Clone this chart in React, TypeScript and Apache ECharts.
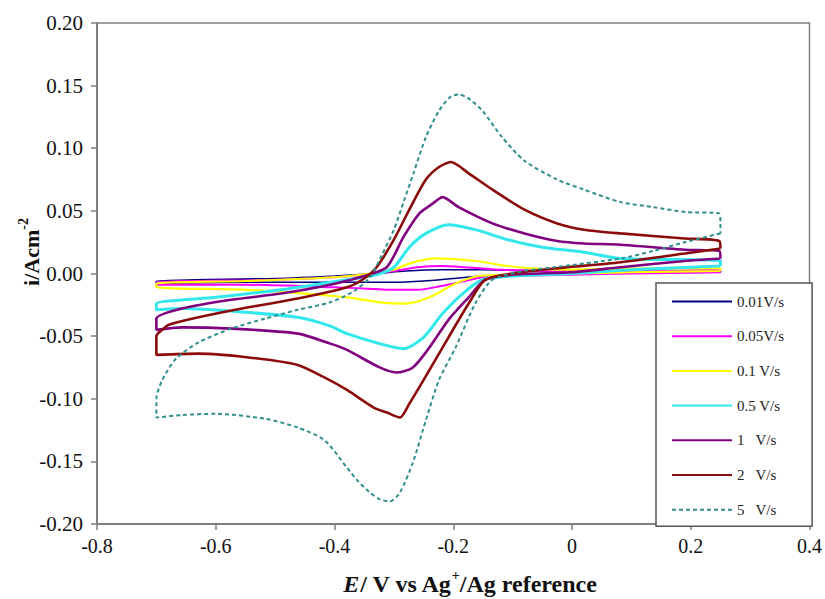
import React, { useEffect, useRef } from 'react';
import * as echarts from 'echarts';

// Scan-rate labels (legend)
const rateNames = ['0.01V/s', '0.05V/s', '0.1 V/s', '0.5 V/s', '1   V/s', '2   V/s', '5   V/s'];

// Axis tick settings
const xTicks = { min: -0.8, max: 0.4, interval: 0.2 };
const yTicks = { min: -0.2, max: 0.2, interval: 0.05 };

// 0.01 V/s
const E001 = [0.25, 0.1, 0.0, -0.1, -0.15, -0.2, -0.25, -0.3, -0.4, -0.55, -0.7, -0.7, -0.5, -0.4, -0.33, -0.28, -0.22, -0.15, -0.05, 0.1, 0.25, 0.25];
const I001 = [0.001, 0.0005, 0.0, -0.001, -0.002, -0.004, -0.006, -0.007, -0.007, -0.007, -0.008, -0.006, -0.004, -0.002, 0.0, 0.002, 0.003, 0.003, 0.002, 0.002, 0.002, 0.001];

// 0.05 V/s
const E005 = [0.25, 0.1, 0.0, -0.1, -0.15, -0.18, -0.22, -0.26, -0.3, -0.35, -0.4, -0.55, -0.7, -0.7, -0.5, -0.4, -0.35, -0.3, -0.26, -0.22, -0.18, -0.12, 0.0, 0.1, 0.25, 0.25];
const I005 = [0.001, 0.0, -0.001, -0.002, -0.003, -0.006, -0.010, -0.013, -0.013, -0.012, -0.011, -0.009, -0.009, -0.007, -0.005, -0.003, -0.001, 0.002, 0.005, 0.006, 0.005, 0.003, 0.002, 0.002, 0.003, 0.001];

// 0.1 V/s
const E01 = [0.25, 0.1, 0.0, -0.1, -0.158, -0.196, -0.24, -0.28, -0.324, -0.379, -0.45, -0.55, -0.7, -0.7, -0.55, -0.4, -0.34, -0.3, -0.274, -0.229, -0.163, -0.108, -0.025, 0.1, 0.25, 0.25];
const I01 = [0.002, 0.001, 0.0, -0.001, -0.002, -0.008, -0.019, -0.024, -0.023, -0.019, -0.016, -0.013, -0.011, -0.008, -0.006, -0.003, 0.0, 0.003, 0.008, 0.012, 0.010, 0.006, 0.003, 0.004, 0.004, 0.002];

// 0.5 V/s
const E05 = [0.25, 0.1, 0.0, -0.1, -0.151, -0.184, -0.218, -0.25, -0.284, -0.324, -0.379, -0.407, -0.462, -0.574, -0.657, -0.7, -0.7, -0.6, -0.49, -0.379, -0.33, -0.3, -0.274, -0.246, -0.208, -0.163, -0.108, -0.05, 0.02, 0.082, 0.25, 0.25];
const I05 = [0.006, 0.003, 0.0, -0.002, -0.005, -0.016, -0.032, -0.051, -0.060, -0.056, -0.048, -0.042, -0.035, -0.030, -0.028, -0.029, -0.024, -0.019, -0.013, -0.005, -0.001, 0.005, 0.021, 0.032, 0.039, 0.035, 0.027, 0.021, 0.017, 0.012, 0.010, 0.006];

// 1 V/s
const E1 = [0.25, 0.19, 0.082, 0.0, -0.1, -0.146, -0.174, -0.208, -0.24, -0.268, -0.296, -0.324, -0.379, -0.407, -0.462, -0.574, -0.657, -0.7, -0.7, -0.657, -0.574, -0.49, -0.407, -0.35, -0.312, -0.284, -0.257, -0.234, -0.218, -0.191, -0.134, -0.08, -0.025, 0.02, 0.082, 0.19, 0.248, 0.25];
const I1 = [0.012, 0.010, 0.005, 0.001, -0.001, -0.005, -0.019, -0.037, -0.059, -0.075, -0.079, -0.075, -0.061, -0.056, -0.048, -0.044, -0.043, -0.045, -0.036, -0.028, -0.021, -0.016, -0.009, -0.002, 0.005, 0.029, 0.048, 0.056, 0.061, 0.053, 0.040, 0.032, 0.026, 0.024, 0.023, 0.019, 0.018, 0.012];

// 2 V/s
const E2 = [0.25, 0.19, 0.082, -0.03, -0.1, -0.146, -0.174, -0.208, -0.24, -0.274, -0.29, -0.312, -0.334, -0.379, -0.417, -0.462, -0.545, -0.629, -0.7, -0.7, -0.69, -0.679, -0.629, -0.545, -0.462, -0.379, -0.35, -0.329, -0.3, -0.274, -0.246, -0.224, -0.204, -0.174, -0.134, -0.08, -0.025, 0.02, 0.082, 0.19, 0.248, 0.25];
const I2 = [0.020, 0.016, 0.009, 0.004, 0.0, -0.005, -0.024, -0.051, -0.077, -0.104, -0.115, -0.111, -0.107, -0.093, -0.083, -0.073, -0.067, -0.064, -0.065, -0.050, -0.045, -0.041, -0.035, -0.027, -0.020, -0.011, -0.004, 0.005, 0.027, 0.051, 0.075, 0.085, 0.089, 0.080, 0.067, 0.051, 0.040, 0.035, 0.032, 0.028, 0.026, 0.020];

// 5 V/s
const E5 = [0.25, 0.19, 0.137, 0.082, -0.03, -0.08, -0.134, -0.163, -0.196, -0.224, -0.246, -0.268, -0.29, -0.307, -0.325, -0.34, -0.36, -0.379, -0.417, -0.462, -0.517, -0.6, -0.657, -0.7, -0.7, -0.69, -0.667, -0.629, -0.574, -0.517, -0.462, -0.407, -0.367, -0.34, -0.32, -0.3, -0.283, -0.267, -0.246, -0.224, -0.205, -0.191, -0.175, -0.151, -0.118, -0.08, -0.025, 0.02, 0.082, 0.137, 0.192, 0.248, 0.25, 0.25];
const I5 = [0.032, 0.025, 0.018, 0.012, 0.005, 0.002, -0.005, -0.024, -0.059, -0.085, -0.117, -0.151, -0.175, -0.182, -0.180, -0.175, -0.166, -0.155, -0.133, -0.123, -0.116, -0.112, -0.113, -0.115, -0.100, -0.085, -0.068, -0.055, -0.044, -0.036, -0.029, -0.023, -0.014, -0.003, 0.015, 0.035, 0.058, 0.080, 0.109, 0.130, 0.141, 0.143, 0.140, 0.130, 0.109, 0.090, 0.075, 0.067, 0.057, 0.053, 0.049, 0.048, 0.040, 0.032];

const seriesE = [E001, E005, E01, E05, E1, E2, E5];
const seriesI = [I001, I005, I01, I05, I1, I2, I5];
const colors = ['#000080', '#ff00ff', '#ffff00', '#33e8ec', '#800080', '#8b0a0a', '#2f8f8c'];
const widths = [1.6, 2, 2.2, 3, 2.6, 2.6, 2];

const SERIF = '"Liberation Serif", "Times New Roman", serif';

export default function App() {
  const ref = useRef<HTMLDivElement>(null);
  useEffect(() => {
    if (!ref.current) return;
    const chart = echarts.init(ref.current, undefined, { renderer: 'svg' });
    const series = rateNames.map((name, k) => ({
      name,
      type: 'line',
      data: seriesE[k].map((e, j) => [e, seriesI[k][j]]),
      symbol: 'none',
      showSymbol: false,
      smooth: 0.25,
      z: 2 + k,
      lineStyle: {
        color: colors[k],
        width: widths[k],
        type: k === 6 ? [4, 3] : 'solid',
      },
      itemStyle: { color: colors[k] },
    }));
    chart.setOption({
      animation: false,
      backgroundColor: '#fff',
      grid: {
        left: 97,
        top: 23,
        width: 721,
        height: 501,
        show: true,
        borderColor: '#808080',
        borderWidth: 1.5,
      },
      xAxis: {
        type: 'value',
        min: xTicks.min,
        max: xTicks.max,
        interval: xTicks.interval,
        axisLine: { onZero: false, lineStyle: { color: '#808080', width: 2 } },
        axisTick: { show: true, length: 6, lineStyle: { color: '#808080', width: 1.5 } },
        splitLine: { show: false },
        axisLabel: {
          margin: 12,
          fontFamily: SERIF,
          fontSize: 20,
          color: '#111',
          formatter: (v: number) => String(Math.round(v * 10) / 10),
        },
      },
      yAxis: {
        type: 'value',
        min: yTicks.min,
        max: yTicks.max,
        interval: yTicks.interval,
        axisLine: { show: true, onZero: false, lineStyle: { color: '#808080', width: 2 } },
        axisTick: { show: true, length: 6, lineStyle: { color: '#808080', width: 1.5 } },
        splitLine: { show: false },
        axisLabel: {
          margin: 14,
          fontFamily: SERIF,
          fontSize: 21,
          color: '#111',
          formatter: (v: number) => v.toFixed(2),
        },
      },
      legend: {
        data: rateNames,
        orient: 'vertical',
        left: 656,
        top: 283,
        itemWidth: 60,
        itemHeight: 14,
        itemGap: 19.7,
        padding: [11, 28, 9, 15],
        borderColor: '#555',
        borderWidth: 1.5,
        backgroundColor: '#fff',
        selectedMode: false,
        itemStyle: { opacity: 0 },
        textStyle: { fontFamily: SERIF, fontSize: 15, color: '#222' },
      },
      graphic: [
        {
          type: 'text',
          x: 470,
          y: 582,
          style: {
            text: '{i|E}{b|/ V vs Ag}{s|+}{b|/Ag reference}',
            align: 'center',
            verticalAlign: 'middle',
            rich: {
              i: { fontFamily: SERIF, fontSize: 24, fontWeight: 'bold', fontStyle: 'italic', lineHeight: 28, verticalAlign: 'bottom', fill: '#111' },
              b: { fontFamily: SERIF, fontSize: 24, fontWeight: 'bold', lineHeight: 28, verticalAlign: 'bottom', fill: '#111' },
              s: { fontFamily: SERIF, fontSize: 14, fontWeight: 'bold', lineHeight: 15, verticalAlign: 'top', fill: '#111' },
            },
          },
        },
        {
          type: 'text',
          x: 29,
          y: 252,
          rotation: Math.PI / 2,
          style: {
            text: '{b|i/Acm}{s|-2}',
            align: 'center',
            verticalAlign: 'middle',
            rich: {
              b: { fontFamily: SERIF, fontSize: 22, fontWeight: 'bold', lineHeight: 26, verticalAlign: 'bottom', fill: '#111' },
              s: { fontFamily: SERIF, fontSize: 14, fontWeight: 'bold', lineHeight: 14, verticalAlign: 'top', fill: '#111' },
            },
          },
        },
      ],
      series,
    });
    return () => chart.dispose();
  }, []);
  return (
    <div
      ref={ref}
      style={{ position: 'absolute', left: 0, top: 0, width: 825, height: 599 }}
    />
  );
}
